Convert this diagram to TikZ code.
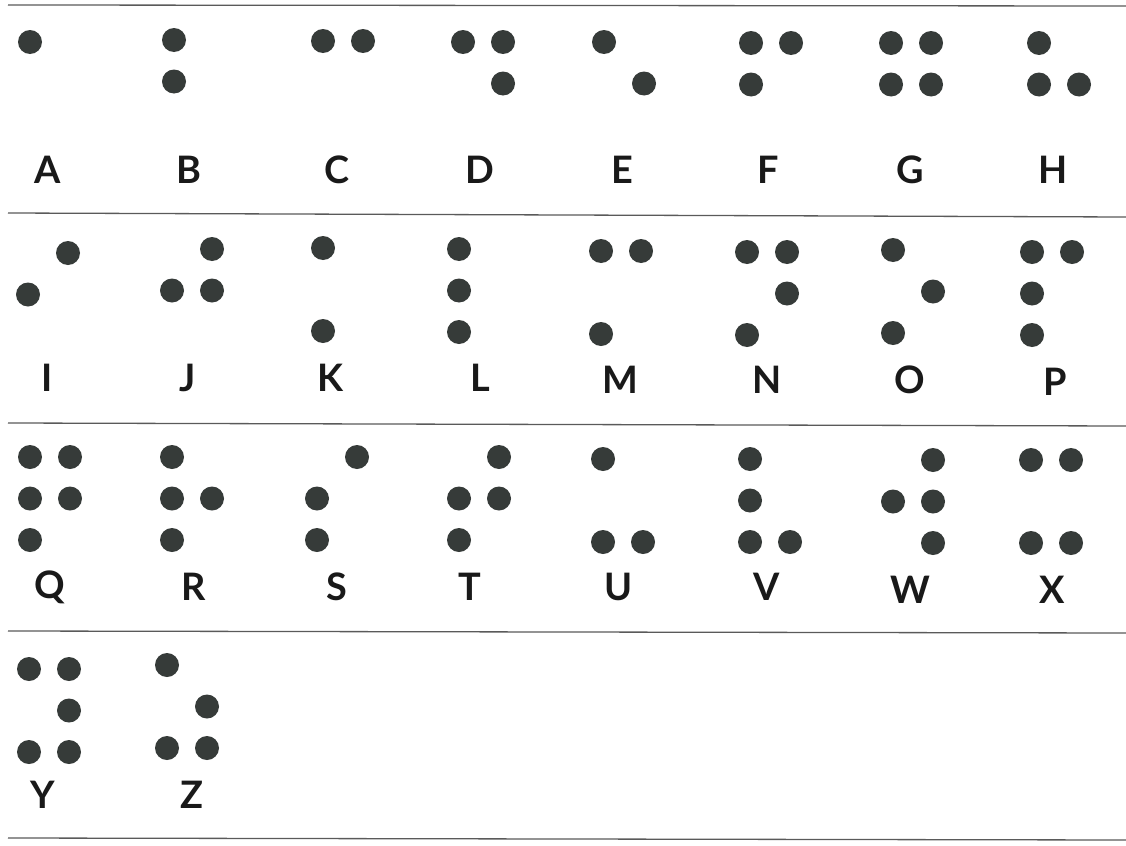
\documentclass[tikz,border=0pt]{standalone}
\usepackage{fontspec}
\setmainfont{Lato}
\definecolor{dotcol}{HTML}{363B39}
\definecolor{rulecol}{HTML}{5A5A5A}
\tikzset{
  brdot/.style={circle,fill=dotcol,inner sep=0pt,minimum size=24bp},
  lbl/.style={font=\fontsize{38}{42}\selectfont\bfseries,text=black!90,inner sep=0pt,anchor=center},
  sep/.style={draw=rulecol,line width=1.3bp}
}
\newcommand\brcell[6]{%
  \foreach \d in {#4} {%
    \pgfmathsetmacro\cx{#2+40*(\d>3)}%
    \pgfmathsetmacro\cy{#3+41.5*mod(\d-1,3)}%
    \node[brdot] (#1\d) at (\cx,\cy) {};
  }
  \node[lbl] (l#1) at (#5,#6) {#1};
}
\begin{document}
\begin{tikzpicture}[x=1bp,y=-1bp]
\useasboundingbox[fill=white] (0,0) rectangle (1126,846);
% separator rules
\coordinate (r0a) at (8,5);   \coordinate (r0b) at (1126,6);
\coordinate (r1a) at (8,213); \coordinate (r1b) at (1126,217);
\coordinate (r2a) at (8,423); \coordinate (r2b) at (1126,426);
\coordinate (r3a) at (8,631); \coordinate (r3b) at (1126,633);
\coordinate (r4a) at (8,838); \coordinate (r4b) at (1126,840);
\draw[sep] (r0a) -- (r0b);
\draw[sep] (r1a) -- (r1b);
\draw[sep] (r2a) -- (r2b);
\draw[sep] (r3a) -- (r3b);
\draw[sep] (r4a) -- (r4b);
% row 1
\brcell{A}{30}{42}{1}{48}{170}
\brcell{B}{174}{40}{1,2}{189}{170}
\brcell{C}{323}{41}{1,4}{337}{170}
\brcell{D}{463}{42}{1,4,5}{480}{170}
\brcell{E}{604}{42}{1,5}{622}{170}
\brcell{F}{751}{43}{1,2,4}{768}{170}
\brcell{G}{891}{43}{1,2,4,5}{910}{170}
\brcell{H}{1039}{43}{1,2,5}{1053}{170}
% row 2
\brcell{I}{28}{253}{2,4}{47}{378}
\brcell{J}{172}{249}{2,4,5}{188}{378}
\brcell{K}{323}{248}{1,3}{330}{378}
\brcell{L}{459}{249}{1,2,3}{480}{378}
\brcell{M}{601}{251}{1,3,4}{620}{380}
\brcell{N}{747}{252}{1,3,4,5}{767}{380}
\brcell{O}{893}{250}{1,3,5}{910}{380}
\brcell{P}{1032}{252}{1,2,3,4}{1055}{382}
% row 3
\brcell{Q}{30}{457}{1,2,3,4,5}{50}{587}
\brcell{R}{172}{457}{1,2,3,5}{194}{587}
\brcell{S}{317}{457}{2,3,4}{337}{587}
\brcell{T}{459}{457}{2,3,4,5}{470}{587}
\brcell{U}{603}{459}{1,3,6}{619}{587}
\brcell{V}{750}{459}{1,2,3,6}{767}{587}
\brcell{W}{893}{460}{2,4,5,6}{910}{590}
\brcell{X}{1031}{460}{1,3,4,6}{1052}{590}
% row 4
\brcell{Y}{29}{669}{1,3,4,5,6}{43}{795}
\brcell{Z}{167}{665}{1,3,5,6}{192}{795}
\end{tikzpicture}
\end{document}
